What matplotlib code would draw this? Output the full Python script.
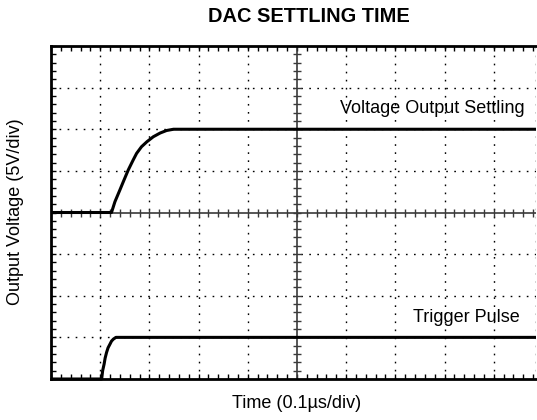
import matplotlib
matplotlib.use("Agg")
import matplotlib.pyplot as plt
import numpy as np
from matplotlib.ticker import MultipleLocator

plt.rcParams['font.family'] = ['Liberation Sans', 'DejaVu Sans']

# Data in screen divisions (x: 0.1 us/div, y: 5 V/div)
settle_t = [0.0, 1.23, 1.30, 1.40, 1.47, 1.57, 1.67, 1.74, 1.84, 1.95, 2.08, 2.22, 2.35, 2.49, 2.62, 9.86]
settle_v = [4.0, 4.0, 4.26, 4.54, 4.74, 5.02, 5.26, 5.42, 5.58, 5.70, 5.82, 5.91, 5.97, 6.0, 6.0, 6.0]
trig_t = [0.0, 1.03, 1.05, 1.08, 1.10, 1.13, 1.16, 1.20, 1.23, 1.27, 1.32, 9.86]
trig_v = [0.0, 0.0, 0.20, 0.36, 0.50, 0.64, 0.75, 0.84, 0.91, 0.96, 1.0, 1.0]

title = "DAC SETTLING TIME"
xlabel = "Time (0.1\u00b5s/div)"
ylabel = "Output Voltage (5V/div)"
label_settle = "Voltage Output Settling"
label_trig = "Trigger Pulse"

XMAX = 9.86
YMAX = 8.0

W, H = 537, 420
fig = plt.figure(figsize=(W / 100, H / 100), dpi=100)
L, R, T, B = 51, 536, 46, 379
ax = fig.add_axes([L / W, (H - B) / H, (R - L) / W, (B - T) / H])
ax.set_xlim(0, XMAX)
ax.set_ylim(0, YMAX)

# dotted grid
dot = dict(color='black', lw=1.0, dashes=(1.2, 4.6), zorder=1)
for xv in range(1, 10):
    if xv != 5:
        ax.axvline(xv, **dot)
ax.axvline(XMAX - 0.005, **dot)
for yv in range(1, 8):
    if yv != 4:
        ax.axhline(yv, **dot)

# center crosshair with ticks
cc = '#3a3a3a'
ax.axhline(4, color=cc, lw=1.2, zorder=2)
ax.axvline(5, color=cc, lw=1.2, zorder=2)
xt = np.arange(0.2, XMAX, 0.2)
ax.plot(xt, np.full_like(xt, 4.0), ls='none', marker='|', ms=5.5, mew=1.0, color=cc, zorder=2)
yt = np.arange(0.2, YMAX, 0.2)
ax.plot(np.full_like(yt, 5.0), yt, ls='none', marker='_', ms=5.5, mew=1.0, color=cc, zorder=2)

# traces
ax.plot(settle_t, settle_v, color='black', lw=2.2, zorder=4, clip_on=False,
        solid_capstyle='butt', solid_joinstyle='round')
ax.plot(trig_t, trig_v, color='black', lw=2.2, zorder=4, clip_on=False,
        solid_capstyle='butt', solid_joinstyle='round')

ax.text(9.63, 6.51, label_settle, ha='right', va='center', fontsize=13)
ax.text(9.53, 1.47, label_trig, ha='right', va='center', fontsize=13)

# frame
for s in ['left', 'top', 'bottom']:
    ax.spines[s].set_linewidth(2.0)
    ax.spines[s].set_color('black')
ax.spines['right'].set_visible(False)

ax.xaxis.set_major_locator(MultipleLocator(1))
ax.xaxis.set_minor_locator(MultipleLocator(0.2))
ax.yaxis.set_major_locator(MultipleLocator(1))
ax.yaxis.set_minor_locator(MultipleLocator(0.2))
ax.tick_params(which='both', direction='in', top=True, bottom=True, left=True, right=False,
               labelbottom=False, labelleft=False, length=3.5, width=1.0, color='black')

fig.text(309 / W, 1 - 17 / H, title, ha='center', va='center', fontsize=14.4, fontweight='bold')
fig.text(297 / W, 1 - 404 / H, xlabel, ha='center', va='center', fontsize=13)
fig.text(16 / W, 1 - 212 / H, ylabel, ha='center', va='center', fontsize=13, rotation=90)

fig.savefig('out.png', dpi=100)
